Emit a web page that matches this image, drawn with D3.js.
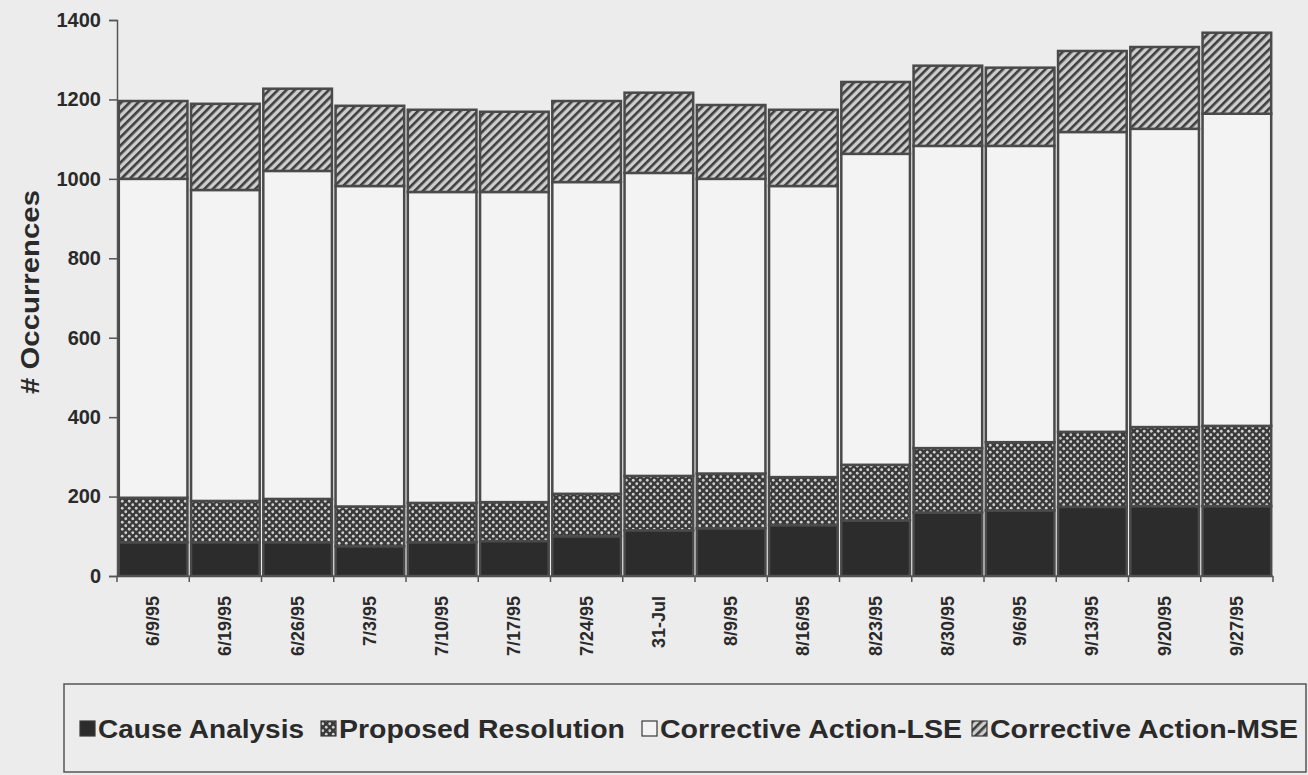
<!DOCTYPE html>
<html>
<head>
<meta charset="utf-8">
<script src="https://cdn.jsdelivr.net/npm/d3@7"></script>
<style>
  body { margin: 0; background: #ececec; }
  svg { display: block; font-family: "Liberation Sans", Arial, sans-serif; font-weight: bold; }
</style>
</head>
<body>
<svg width="1308" height="775"></svg>
<script>
// Week labels
const weeks = ["6/9/95", "6/19/95", "6/26/95", "7/3/95", "7/10/95", "7/17/95", "7/24/95", "31-Jul",
  "8/9/95", "8/16/95", "8/23/95", "8/30/95", "9/6/95", "9/13/95", "9/20/95", "9/27/95"];

// Series values
const causeAnalysis = [85, 85, 85, 75, 85, 88, 100, 115, 120, 128, 140, 160, 165, 174, 176, 176];
const proposedResolution = [112, 104, 109, 100, 99, 98, 107, 137, 138, 121, 140, 162, 172, 189, 199, 202];
const correctiveLSE = [803, 783, 826, 807, 783, 781, 785, 763, 742, 733, 783, 761, 746, 755, 751, 786];
const correctiveMSE = [196, 217, 207, 202, 207, 202, 204, 202, 186, 192, 181, 202, 197, 204, 206, 204];

const seriesNames = ["Cause Analysis", "Proposed Resolution", "Corrective Action-LSE", "Corrective Action-MSE"];
const yTicks = [0, 200, 400, 600, 800, 1000, 1200, 1400];

const table = weeks.map((w, i) => ({
  week: w,
  "Cause Analysis": causeAnalysis[i],
  "Proposed Resolution": proposedResolution[i],
  "Corrective Action-LSE": correctiveLSE[i],
  "Corrective Action-MSE": correctiveMSE[i]
}));

const svg = d3.select("svg");
const margin = { left: 117, top: 20, right: 35, bottom: 199 };
const width = 1308 - margin.left - margin.right;
const height = 775 - margin.top - margin.bottom;

// Fill patterns
const defs = svg.append("defs");
const dots = defs.append("pattern")
  .attr("id", "dots").attr("patternUnits", "userSpaceOnUse")
  .attr("width", 7).attr("height", 7);
dots.append("rect").attr("width", 7).attr("height", 7).attr("fill", "#3a3a3a");
dots.append("circle").attr("cx", 1.75).attr("cy", 1.75).attr("r", 1.4).attr("fill", "#cfcfcf");
dots.append("circle").attr("cx", 5.25).attr("cy", 5.25).attr("r", 1.4).attr("fill", "#cfcfcf");

const hatch = defs.append("pattern")
  .attr("id", "hatch").attr("patternUnits", "userSpaceOnUse")
  .attr("width", 6).attr("height", 6)
  .attr("patternTransform", "rotate(45)");
hatch.append("rect").attr("width", 6).attr("height", 6).attr("fill", "#cdcdcd");
hatch.append("rect").attr("x", 0).attr("width", 2.6).attr("height", 6).attr("fill", "#3e3e3e");

const fills = ["#2c2c2c", "url(#dots)", "#f3f3f3", "url(#hatch)"];

const g = svg.append("g").attr("transform", `translate(${margin.left},${margin.top})`);

const x = d3.scaleBand().domain(weeks).range([0, width]).paddingInner(0.05).paddingOuter(0.025);
const y = d3.scaleLinear().domain([0, 1400]).range([height, 0]);

const stacked = d3.stack().keys(seriesNames)(table);

// Bars
g.selectAll(".layer")
  .data(stacked)
  .enter().append("g")
  .attr("class", "layer")
  .attr("fill", (d, i) => fills[i])
  .selectAll("rect")
  .data(d => d)
  .enter().append("rect")
  .attr("x", d => x(d.data.week))
  .attr("y", d => y(d[1]))
  .attr("width", x.bandwidth())
  .attr("height", d => y(d[0]) - y(d[1]))
  .style("stroke", "#4a4a4a")
  .style("stroke-width", 2.5);

// Y axis
const yAxis = g.append("g")
  .call(d3.axisLeft(y).tickValues(yTicks).tickFormat(d3.format("d")).tickSize(8).tickPadding(8));
yAxis.select(".domain").style("stroke", "#555").style("stroke-width", 1.5);
yAxis.selectAll(".tick line").style("stroke", "#555").style("stroke-width", 1.5);
yAxis.selectAll("text").style("font-size", "20px").style("fill", "#2a2a2a");

// X axis: line with ticks between the bars
g.append("line")
  .attr("x1", 0).attr("x2", width)
  .attr("y1", height).attr("y2", height)
  .style("stroke", "#555").style("stroke-width", 1.5);
const edges = [0].concat(weeks.map(w => x(w) + x.bandwidth() + x.step() * x.paddingInner() / 2));
g.selectAll(".xtick")
  .data(edges)
  .enter().append("line")
  .attr("x1", d => d).attr("x2", d => d)
  .attr("y1", height).attr("y2", height + 6)
  .style("stroke", "#555").style("stroke-width", 1.5);

g.selectAll(".xlabel")
  .data(weeks)
  .enter().append("text")
  .attr("transform", d => `translate(${x(d) + x.bandwidth() / 2 + 6},${height + 20}) rotate(-90)`)
  .attr("text-anchor", "end")
  .style("font-size", "18px")
  .style("fill", "#2a2a2a")
  .text(d => d);

// Y axis title
svg.append("text")
  .attr("transform", "translate(39,292) rotate(-90)")
  .attr("text-anchor", "middle")
  .attr("textLength", 204)
  .attr("lengthAdjust", "spacingAndGlyphs")
  .style("font-size", "25px")
  .style("fill", "#2a2a2a")
  .text("# Occurrences");

// Legend
const legend = svg.append("g");
legend.append("rect")
  .attr("x", 64).attr("y", 684).attr("width", 1242).attr("height", 88)
  .attr("fill", "none").style("stroke", "#555").style("stroke-width", 1.5);

const legendX = [80, 321, 642, 972];
const legendLen = [206, 286, 302, 308];
const legendItem = legend.selectAll(".item")
  .data(seriesNames)
  .enter().append("g")
  .attr("transform", (d, i) => `translate(${legendX[i]},729)`);
legendItem.append("rect")
  .attr("x", 0).attr("y", -8).attr("width", 15).attr("height", 15)
  .attr("fill", (d, i) => fills[i])
  .style("stroke", "#3a3a3a").style("stroke-width", 1.2);
legendItem.append("text")
  .attr("x", 18).attr("y", 9)
  .attr("textLength", (d, i) => legendLen[i])
  .attr("lengthAdjust", "spacingAndGlyphs")
  .style("font-size", "25px")
  .style("fill", "#2a2a2a")
  .text(d => d);
</script>
</body>
</html>
